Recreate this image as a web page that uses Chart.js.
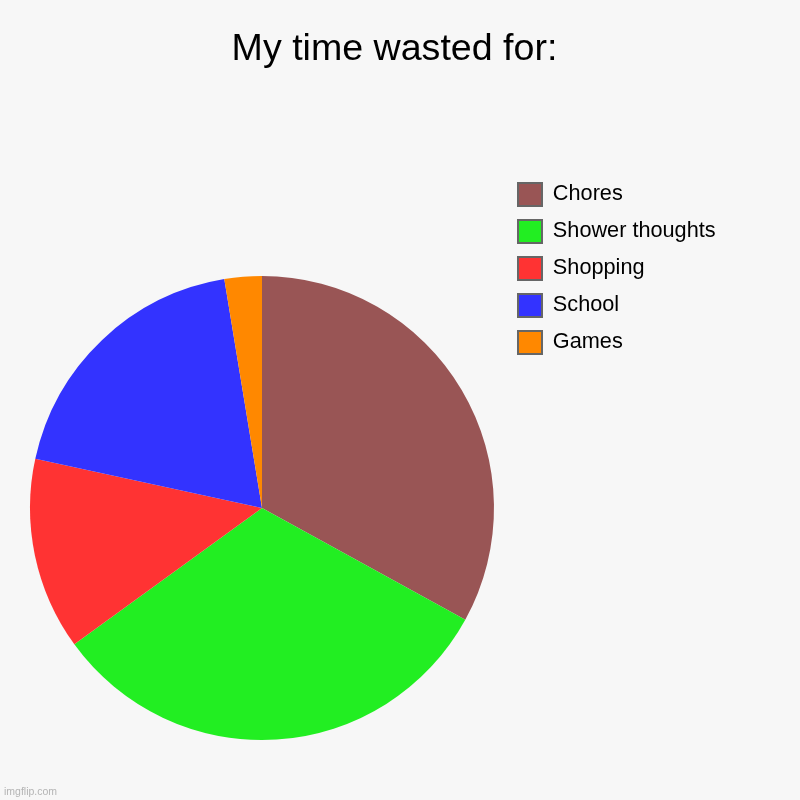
<!DOCTYPE html>
<html>
<head>
<meta charset="utf-8">
<script src="https://cdn.jsdelivr.net/npm/chart.js@4"></script>
<style>
  body { margin: 0; background: #f7f7f7; }
  #wrap { position: relative; width: 800px; height: 800px; }
  #mark { position: absolute; left: 4px; top: 785px; font: 10.5px "Liberation Sans", Arial, sans-serif; color: #b4b4b4; }
</style>
</head>
<body>
<div id="wrap">
  <canvas id="grafico" width="800" height="800"></canvas>
  <div id="mark">imgflip.com</div>
</div>
<script>
const categorias = ['Chores', 'Shower thoughts', 'Shopping', 'School', 'Games'];
const valores = [33.0, 32.0, 13.4, 19.0, 2.6];
const cores = ['#995555', '#22ee22', '#ff3333', '#3333ff', '#ff8800'];

Chart.defaults.font.family = '"Liberation Sans", Arial, sans-serif';

// imgflip centres the title on the page and puts the legend top right,
// so move those two boxes after Chart.js has laid out the pie
const posicionar = {
    id: 'posicionar',
    afterLayout(chart) {
        const t = chart.titleBlock;
        t.left = 0;
        t.right = 789;
        t.width = 789;
        const l = chart.legend;
        l.left = 504;
        l.top = 169;
        l.right = l.left + l.width;
        l.bottom = l.top + l.height;
    }
};

const ctx = document.getElementById('grafico');

new Chart(ctx, {
    type: 'pie',
    data: {
        labels: categorias,
        datasets: [{
            data: valores,
            backgroundColor: cores,
            borderWidth: 0,
            hoverOffset: 0
        }]
    },
    options: {
        responsive: false,
        animation: false,
        layout: {
            padding: { top: 0, left: 30, right: 306, bottom: 60 }
        },
        plugins: {
            title: {
                display: true,
                text: 'My time wasted for:',
                color: '#000',
                font: { size: 37.6, weight: 'normal' },
                padding: { top: 27, bottom: 203.9 }
            },
            legend: {
                position: 'chartArea',
                align: 'start',
                labels: {
                    boxWidth: 24,
                    boxHeight: 23,
                    padding: 14,
                    color: '#000',
                    font: { size: 21.7 },
                    generateLabels(chart) {
                        const items = Chart.overrides.doughnut.plugins.legend.labels.generateLabels(chart);
                        items.forEach(it => {
                            it.strokeStyle = '#666';
                            it.lineWidth = 2;
                        });
                        return items;
                    }
                }
            },
            tooltip: { enabled: false }
        }
    },
    plugins: [posicionar]
});
</script>
</body>
</html>
